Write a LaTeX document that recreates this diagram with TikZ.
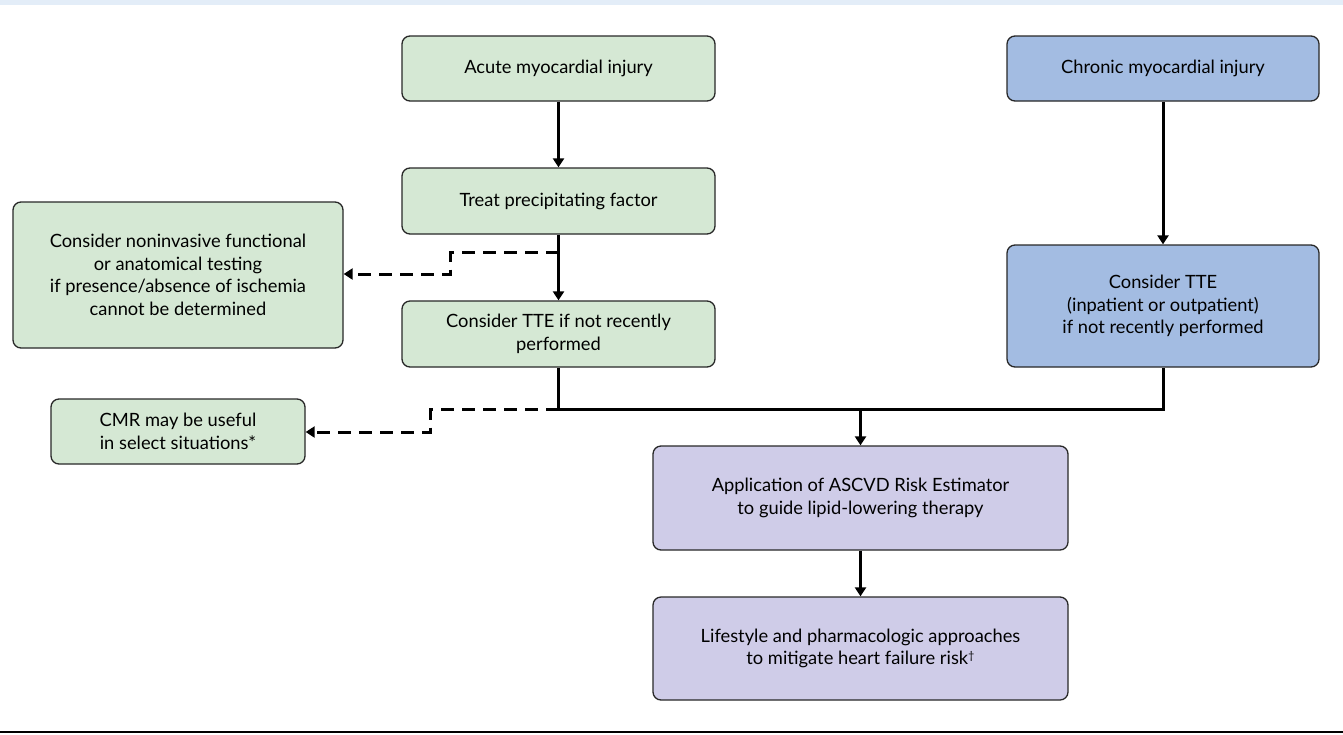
\documentclass[tikz,border=0pt]{standalone}
\usepackage{fontspec}
\setmainfont{Lato}
\usetikzlibrary{arrows.meta,calc}
\definecolor{gfill}{RGB}{213,232,212}
\definecolor{bfill}{RGB}{163,188,226}
\definecolor{pfill}{RGB}{207,204,232}
\definecolor{edgec}{RGB}{40,40,40}
\definecolor{topband}{RGB}{227,237,248}
\begin{document}
\begin{tikzpicture}[x=1pt,y=-1pt,
  box/.style={draw=edgec,line width=1.3pt,rounded corners=8pt,align=center,font=\fontsize{18.3}{22.5}\selectfont,inner sep=0pt},
  gbox/.style={box,fill=gfill},
  bbox/.style={box,fill=bfill},
  pbox/.style={box,fill=pfill},
  conn/.style={line width=3pt,black},
  arr/.style={conn,-{Triangle[length=9pt,width=11pt]}},
  darr/.style={arr,dash pattern=on 13pt off 8pt}]
\useasboundingbox (0,0) rectangle (1343,734);
\fill[white] (0,0) rectangle (1343,734);
\fill[topband] (0,0) rectangle (1343,5);
\draw[line width=2.2pt] (0,732) -- (1343,732);

\node[gbox,minimum width=313pt,minimum height=65pt] (acute) at (558.5,68.5) {Acute myocardial injury};
\node[gbox,minimum width=313pt,minimum height=66pt] (treat) at (558.5,201) {Treat precipitating factor};
\node[gbox,minimum width=313pt,minimum height=66pt] (tte) at (558.5,334) {Consider TTE if not recently\\performed};
\node[gbox,minimum width=330pt,minimum height=146pt] (nonin) at (178,275) {Consider noninvasive functional\\or anatomical testing\\if presence/absence of ischemia\\cannot be determined};
\node[gbox,minimum width=254pt,minimum height=65pt] (cmr) at (178,431.5) {CMR may be useful\\in select situations*};
\node[bbox,minimum width=312pt,minimum height=65pt] (chronic) at (1163,68.5) {Chronic myocardial injury};
\node[bbox,minimum width=312pt,minimum height=122pt] (ttec) at (1163,306) {Consider TTE\\(inpatient or outpatient)\\if not recently performed};
\node[pbox,minimum width=415pt,minimum height=104pt] (ascvd) at (860.5,498) {Application of ASCVD Risk Estimator\\to guide lipid-lowering therapy};
\node[pbox,minimum width=415pt,minimum height=103pt] (life) at (860.5,648.5) {Lifestyle and pharmacologic approaches\\to mitigate heart failure risk{\fontsize{11}{11}\selectfont\raisebox{5pt}{\dag}}};

\coordinate (d1) at (558.5,252);
\coordinate (j) at (558.5,409);
\coordinate (jr) at (1163,409);
\coordinate (jm) at (860.5,409);

\draw[arr] (acute) -- (treat);
\draw[arr] (treat) -- (tte);
\draw[arr] (chronic) -- (ttec);
\draw[conn] (tte.south) -- (j) -- (jr) -- (ttec.south);
\draw[arr] (jm) -- (ascvd);
\draw[arr] (ascvd) -- (life);
\draw[darr] (d1) -- (450,252) -- (450,274) -- (nonin.east |- 0,274);
\draw[darr] (j) -- (430,409) -- (430,432) -- (cmr.east |- 0,432);
\end{tikzpicture}
\end{document}
